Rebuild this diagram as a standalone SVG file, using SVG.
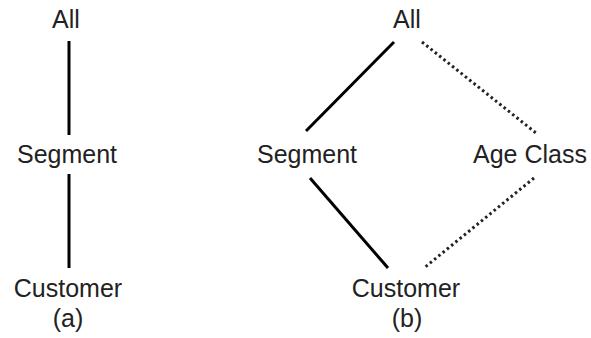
<svg xmlns="http://www.w3.org/2000/svg" width="591" height="338" viewBox="0 0 591 338">
<style>
text{font-family:"Liberation Sans",Arial,sans-serif;font-size:25px;fill:#222;text-anchor:middle}
.s{stroke:#000;stroke-width:3;fill:none}
.d{stroke:#222;stroke-width:3;fill:none;stroke-dasharray:2.5 3}
</style>
<rect width="591" height="338" fill="#fff"/>
<g id="connectors">
<line class="s" x1="69" y1="41" x2="69" y2="135"/>
<line class="s" x1="69" y1="174" x2="69" y2="268"/>
<line class="s" x1="394" y1="42" x2="306" y2="131"/>
<line class="d" x1="422" y1="42" x2="536" y2="133"/>
<line class="s" x1="310" y1="178" x2="388" y2="268"/>
<line class="d" x1="534" y1="178" x2="424" y2="268"/>
</g>
<g id="a-all"><text x="66" y="28">All</text></g>
<g id="a-segment"><text x="67" y="163">Segment</text></g>
<g id="a-customer"><text x="68" y="297">Customer</text></g>
<g id="a-label"><text x="68" y="327">(a)</text></g>
<g id="b-all"><text x="407" y="28">All</text></g>
<g id="b-segment"><text x="307" y="163">Segment</text></g>
<g id="b-ageclass"><text x="530" y="163">Age Class</text></g>
<g id="b-customer"><text x="406" y="297">Customer</text></g>
<g id="b-label"><text x="407" y="327">(b)</text></g>
</svg>
